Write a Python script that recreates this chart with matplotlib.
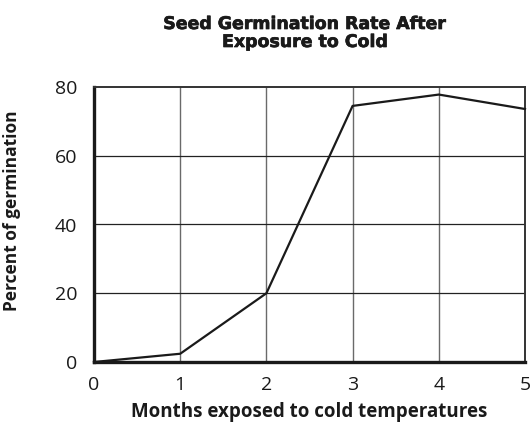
import matplotlib.pyplot as plt
import matplotlib.patheffects as pe

# data
months = [0, 1, 2, 3, 4, 5]
germination = [0, 2.4, 20, 74.5, 77.8, 73.6]
x_ticks = [0, 1, 2, 3, 4, 5]
y_ticks = [0, 20, 40, 60, 80]

plt.rcParams['font.family'] = ['Open Sans', 'DejaVu Sans']

fig = plt.figure(figsize=(5.32, 4.23), dpi=100)
ax = fig.add_axes([94 / 532, 1 - 362 / 423, (525 - 94) / 532, (362 - 87) / 423])

ax.plot(months, germination, color='#1a1a1a', linewidth=1.6, zorder=5, clip_on=False)

ax.set_xlim(0, 5)
ax.set_ylim(0, 80)
ax.set_xticks(x_ticks)
ax.set_yticks(y_ticks)

# grid: vertical lines grey, horizontal black
for x in x_ticks[1:-1]:
    ax.axvline(x, color='#6a6a6a', linewidth=1.0, zorder=1)
for y in y_ticks[1:-1]:
    ax.axhline(y, color='#222222', linewidth=0.9, zorder=1)

for side in ['left', 'bottom']:
    ax.spines[side].set_linewidth(2.4)
    ax.spines[side].set_color('#1a1a1a')
for side in ['top', 'right']:
    ax.spines[side].set_linewidth(1.4)
    ax.spines[side].set_color('#333333')

ax.tick_params(length=0, labelsize=14, colors='#1a1a1a')
ax.tick_params(axis='x', pad=10)
ax.tick_params(axis='y', pad=12)
for lab in ax.get_yticklabels():
    lab.set_va('center_baseline')

ax.set_xlabel('Months exposed to cold temperatures', fontsize=13.5,
              fontweight='bold', color='#1a1a1a', labelpad=6)
ax.set_ylabel('Percent of germination', fontsize=12.5,
              fontweight='bold', color='#1a1a1a', labelpad=14)
ax.yaxis.set_label_coords(-(94 - 21) / 431, (362 - 211) / 275)

fig.text(305 / 532, 1 - 33 / 423, 'Seed Germination Rate After\nExposure to Cold',
         ha='center', va='center', fontsize=12.5, fontweight='black',
         family=['DejaVu Sans'], color='#1a1a1a', linespacing=1.0,
         path_effects=[pe.withStroke(linewidth=0.5, foreground='#1a1a1a')])

fig.savefig('out.png', dpi=100, facecolor='white')
